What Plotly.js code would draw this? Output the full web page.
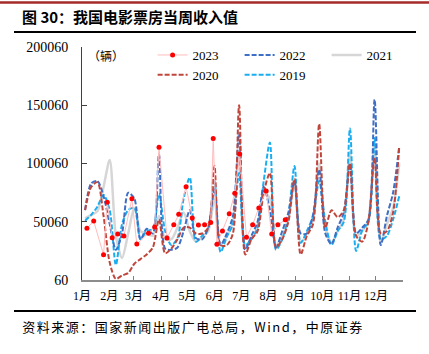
<!DOCTYPE html>
<html>
<head>
<meta charset="utf-8">
<script src="https://cdn.plot.ly/plotly-3.0.1.min.js"></script>
<style>
html,body{margin:0;padding:0;background:#fff;}
#chart{width:429px;height:354px;}
g.annotation[data-index="1"] text{letter-spacing:1.5px;}
</style>
</head>
<body>
<div id="chart"></div>
<script>
// week index for the smooth yearly series
const weeks = [1,2,3,4,5,6,7,8,9,10,11,12,13,14,15,16,17,18,19,20,21,22,23,24,25,26,27,28,29,30,31,32,33,34,35,36,37,38,39,40,41,42,43,44,45,46,47,48,49,50,51,52];

const s2022 = [60000,83000,85000,72000,48000,26000,40000,75000,70000,35000,44000,40000,108000,27000,26000,28000,42000,60000,36000,35000,45000,78000,30000,40000,55000,126000,26000,38000,50000,80000,60000,28000,42000,58000,85000,40000,40000,56000,95000,40000,31000,45000,58000,100000,40000,45000,52000,155000,30000,55000,75000,115000];
const s2021 = [53000,56000,59000,80000,103000,38000,19000,40000,62000,42000,40000,38000,55000,35000,35000,45000,58000,42000,33000,37000,42000,70000,30000,38000,50000,110000,28000,36000,45000,75000,70000,30000,38000,52000,85000,32000,40000,52000,100000,45000,32000,42000,52000,110000,38000,42000,52000,120000,32000,48000,62000,100000];
const s2020 = [60000,80000,84000,55000,15000,1000,4000,6000,14000,18000,22000,28000,52000,23000,27000,35000,45000,45000,40000,40000,45000,98000,30000,30000,40000,150000,22000,35000,42000,75000,92000,28000,35000,50000,87000,22000,38000,48000,134000,45000,60000,54000,60000,100000,38000,33000,50000,105000,40000,42000,58000,115000];
const s2019 = [51000,56000,63000,73000,60000,13000,48000,60000,62000,35000,42000,44000,74000,42000,30000,36000,70000,88000,33000,38000,45000,85000,24000,37000,48000,92000,30000,35000,45000,85000,118000,26000,35000,55000,98000,32000,42000,55000,85000,50000,30000,42000,50000,130000,25000,43000,50000,122000,35000,38000,52000,72000];

// 2023 observations (week position, value)
const x2023 = [1.3,2.4,4.0,4.6,5.4,6.3,7.3,8.6,9.4,11.3,12.3,13.0,14.3,15.4,16.2,17.4,18.4,19.4,20.4,21.4,21.8,22.4,23.3,24.4,25.3,26.1,27.2,28.2,29.2,30.4,31.3,32.3,33.5];
const y2023 = [44400,50600,21700,66900,36300,39500,37800,69800,30900,40100,45500,114100,36100,47500,56400,80100,53200,47200,47500,49500,121600,30700,42200,56900,74600,108300,36700,47500,61900,76400,39500,47400,51700];

const monthLabels = ['1月','2月','3月','4月','5月','6月','7月','8月','9月','10月','11月','12月',''];
const monthTickPos = [0.5,4.93,8.93,13.36,17.64,22.07,26.36,30.79,35.21,39.5,43.93,48.21,52.61];
const yTicks = [60,50060,100060,150060,200060];

const serif = '"Liberation Serif", "Times New Roman", "Noto Sans CJK SC", serif';
const cjk = '"Noto Sans CJK SC", "Liberation Sans", sans-serif';

const dashed = '5px,2px';
const traces = [
  {name:'2021', x:weeks, y:s2021, mode:'lines', line:{color:'#d6d6d6', width:2.5, shape:'spline', smoothing:0.8}, legendrank:3},
  {name:'2019', x:weeks, y:s2019, mode:'lines', line:{color:'#1aaef0', width:2, dash:dashed, shape:'spline', smoothing:0.8}, legendrank:5},
  {name:'2022', x:weeks, y:s2022, mode:'lines', line:{color:'#3f6fc4', width:2, dash:dashed, shape:'spline', smoothing:0.8}, legendrank:2},
  {name:'2020', x:weeks, y:s2020, mode:'lines', line:{color:'#c0463c', width:2, dash:dashed, shape:'spline', smoothing:0.8}, legendrank:4},
  {name:'2023', x:x2023, y:y2023, mode:'lines+markers', line:{color:'#ffbcbc', width:1}, marker:{color:'#ff0000', size:5, symbol:'circle'}, legendrank:1}
];

const layout = {
  width:429, height:354,
  margin:{l:82, r:26, t:47, b:74, pad:0},
  paper_bgcolor:'#fff', plot_bgcolor:'#fff',
  showlegend:true,
  title:{text:'<b>图 30：我国电影票房当周收入值</b>', font:{family:cjk, size:15, color:'#000'}, x:22/429, xanchor:'left', xref:'container', y:1-18/354, yanchor:'middle', yref:'container'},
  xaxis:{range:[0.5,52.61], tickmode:'array', tickvals:monthTickPos, ticktext:monthLabels,
    ticks:'inside', ticklen:4, tickcolor:'#808080', showline:true, linecolor:'#8c8c8c', linewidth:2,
    showgrid:false, zeroline:false, tickfont:{family:serif, size:12, color:'#000'}, ticklabelstandoff:4, fixedrange:true},
  yaxis:{range:[60,200060], tickmode:'array', tickvals:yTicks, ticktext:yTicks.map(String),
    ticks:'inside', ticklen:5, tickcolor:'#404040', showline:true, linecolor:'#404040', linewidth:1,
    showgrid:false, zeroline:false, tickfont:{family:serif, size:14, color:'#000'}, ticklabelstandoff:10, fixedrange:true},
  legend:{orientation:'h', x:0.22, xanchor:'left', y:1.03, yanchor:'top', bgcolor:'rgba(0,0,0,0)',
    font:{family:serif, size:13, color:'#000'}, entrywidth:42, entrywidthmode:'pixels', traceorder:'normal'},
  annotations:[
    {text:'（辆）', xref:'paper', yref:'paper', x:(86-82)/321, y:(280-55)/233, xanchor:'left', yanchor:'middle', showarrow:false, font:{family:cjk, size:12, color:'#000'}},
    {text:'资料来源：国家新闻出版广电总局，Wind，中原证券', xref:'paper', yref:'paper', x:(39-82)/321, y:(280-326)/233, xanchor:'left', yanchor:'middle', showarrow:false, font:{family:cjk, size:13, color:'#000'}}
  ],
  shapes:[
    {type:'line', xref:'paper', yref:'paper', x0:-82/321, x1:(429-82)/321, y0:(280-2.5)/233, y1:(280-2.5)/233, line:{color:'#a52a2a', width:2.5}},
    {type:'line', xref:'paper', yref:'paper', x0:(14-82)/321, x1:(416-82)/321, y0:(280-32)/233, y1:(280-32)/233, line:{color:'#000', width:2}},
    {type:'line', xref:'paper', yref:'paper', x0:(14-82)/321, x1:(416-82)/321, y0:(280-311)/233, y1:(280-311)/233, line:{color:'#000', width:2}}
  ]
};

Plotly.newPlot('chart', traces, layout, {displayModeBar:false, staticPlot:true});
</script>
</body>
</html>
